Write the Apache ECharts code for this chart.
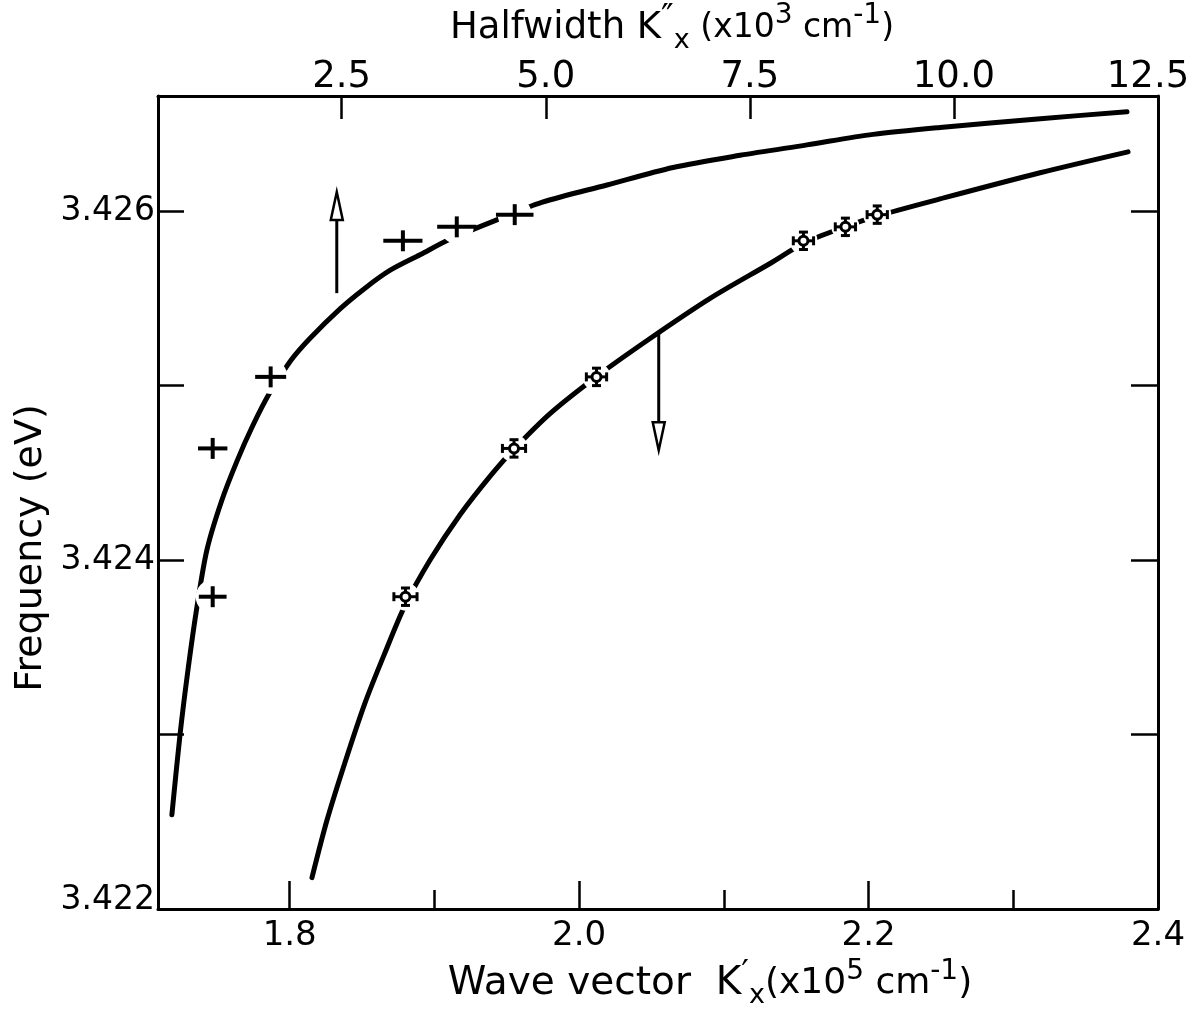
<!DOCTYPE html>
<html>
<head>
<meta charset="utf-8">
<title>Frequency vs wavevector</title>
<script src="https://cdn.jsdelivr.net/npm/echarts@6/dist/echarts.min.js"></script>
<style>
  html, body { margin: 0; padding: 0; background: #fff; }
  #chart { width: 1195px; height: 1011px; }
</style>
</head>
<body>
<div id="chart"></div>
<script>
// measured points, same frequency for both K' and K''
const freq = [3.42379, 3.42464, 3.42505, 3.42583, 3.42591, 3.42598]
const freqErrPlus = [0.00006, 0.00006, 0.00006, 0.00006, 0.00006, 0.00006]
const freqErrRing = [0.00005, 0.00005, 0.00005, 0.00005, 0.00005, 0.00005]

// wavevector K' (x10^5 cm^-1), bottom axis
const waveK = [1.880, 1.955, 2.012, 2.155, 2.184, 2.206]
const waveKErr = [0.008, 0.008, 0.007, 0.007, 0.007, 0.007]

// halfwidth K'' (x10^3 cm^-1), top axis
const halfK = [0.92, 0.92, 1.63, 3.25, 3.91, 4.62]
const halfKErr = [0.17, 0.18, 0.19, 0.24, 0.24, 0.23]

// fitted curves
const fitWaveK = [1.8154, 1.8258, 1.8382, 1.8520, 1.8659, 1.8797, 1.8970, 1.9177, 1.9384, 1.9543,
  1.9799, 2.0117, 2.0490, 2.0905, 2.1319, 2.1561, 2.1838, 2.2052, 2.2494, 2.3185, 2.3793]
const fitWaveFreq = [3.42218, 3.42251, 3.42284, 3.42318, 3.42347, 3.42374, 3.42400, 3.42426, 3.42448, 3.42463,
  3.42484, 3.42505, 3.42527, 3.42550, 3.42570, 3.42582, 3.42591, 3.42597, 3.42607, 3.42622, 3.42634]

const fitHalfK = [0.42, 0.52, 0.62, 0.73, 0.85, 1.03, 1.22, 1.40, 1.62, 1.87, 2.11, 2.48, 2.79,
  3.09, 3.46, 3.83, 4.40, 4.95, 5.75, 6.56, 7.38, 8.20, 9.01, 9.83, 11.06, 12.12]
const fitHalfFreq = [3.42254, 3.42300, 3.42338, 3.42374, 3.42406, 3.42434, 3.42457, 3.42476, 3.42496,
  3.42514, 3.42527, 3.42544, 3.42556, 3.42566, 3.42575, 3.42584, 3.42595, 3.42605, 3.42615, 3.42625,
  3.42632, 3.42638, 3.42644, 3.42648, 3.42653, 3.42657]

// arrows: [x, freq from, freq to]
const upArrow = [2.44, 3.42553, 3.42611]
const downArrow = [2.055, 3.42530, 3.42463]

// ticks
const waveTicks = [1.8, 2.0, 2.2]
const waveMinorTicks = [1.9, 2.1, 2.3]
const waveLabels = [1.8, 2.0, 2.2, 2.4]
const halfTicks = [2.5, 5.0, 7.5, 10.0]
const halfLabels = [2.5, 5.0, 7.5, 10.0, 12.5]
const freqTicks = [3.423, 3.424, 3.425, 3.426]
const freqLabels = [3.422, 3.424, 3.426]

const FONT = 'DejaVu Sans'
const black = '#000'

const zip = (a, b) => a.map((v, i) => [v, b[i]])

function renderPlus(params, api) {
  const x = api.value(0), y = api.value(1), ex = api.value(2), ey = api.value(3)
  const c = api.coord([x, y])
  const l = api.coord([x - ex, y]), r = api.coord([x + ex, y])
  const t = api.coord([x, y + ey]), b = api.coord([x, y - ey])
  const st = { stroke: black, lineWidth: 4 }
  return {
    type: 'group',
    children: [
      { type: 'circle', shape: { cx: c[0], cy: c[1], r: 17 }, style: { fill: '#fff' } },
      { type: 'line', shape: { x1: l[0], y1: l[1], x2: r[0], y2: r[1] }, style: st },
      { type: 'line', shape: { x1: t[0], y1: t[1], x2: b[0], y2: b[1] }, style: st }
    ]
  }
}

function renderRing(params, api) {
  const x = api.value(0), y = api.value(1), ex = api.value(2), ey = api.value(3)
  const c = api.coord([x, y])
  const l = api.coord([x - ex, y]), r = api.coord([x + ex, y])
  const t = api.coord([x, y + ey]), b = api.coord([x, y - ey])
  const rad = 4.5, cap = 4.5
  const st = { stroke: black, lineWidth: 3 }
  return {
    type: 'group',
    children: [
      { type: 'circle', shape: { cx: c[0], cy: c[1], r: 14 }, style: { fill: '#fff' } },
      { type: 'line', shape: { x1: l[0], y1: l[1], x2: c[0] - rad, y2: c[1] }, style: st },
      { type: 'line', shape: { x1: c[0] + rad, y1: c[1], x2: r[0], y2: r[1] }, style: st },
      { type: 'line', shape: { x1: t[0], y1: t[1], x2: c[0], y2: c[1] - rad }, style: st },
      { type: 'line', shape: { x1: c[0], y1: c[1] + rad, x2: b[0], y2: b[1] }, style: st },
      { type: 'line', shape: { x1: l[0], y1: l[1] - cap, x2: l[0], y2: l[1] + cap }, style: st },
      { type: 'line', shape: { x1: r[0], y1: r[1] - cap, x2: r[0], y2: r[1] + cap }, style: st },
      { type: 'line', shape: { x1: t[0] - cap, y1: t[1], x2: t[0] + cap, y2: t[1] }, style: st },
      { type: 'line', shape: { x1: b[0] - cap, y1: b[1], x2: b[0] + cap, y2: b[1] }, style: st },
      { type: 'circle', shape: { cx: c[0], cy: c[1], r: rad }, style: { fill: '#fff', stroke: black, lineWidth: 3 } }
    ]
  }
}

function renderArrow(params, api) {
  const p0 = api.coord([api.value(0), api.value(1)])
  const p1 = api.coord([api.value(0), api.value(2)])
  const dir = Math.sign(p1[1] - p0[1])
  const base = p1[1] - dir * 28
  return {
    type: 'group',
    children: [
      { type: 'line', shape: { x1: p0[0], y1: p0[1], x2: p0[0], y2: base }, style: { stroke: black, lineWidth: 3 } },
      {
        type: 'polygon',
        shape: { points: [[p1[0], p1[1]], [p1[0] - 6, base], [p1[0] + 6, base]] },
        style: { fill: '#fff', stroke: black, lineWidth: 2.5 }
      }
    ]
  }
}

const axisLine = { show: true, lineStyle: { color: black, width: 3 } }
const tickStyle = { color: black, width: 2.5 }
const titleRich = (big, small) => ({
  t: { fontFamily: FONT, fontSize: big, lineHeight: 52, color: black },
  q: { fontFamily: FONT, fontSize: small, lineHeight: 52, color: black },
  p: { fontFamily: FONT, fontSize: 34, lineHeight: 30, verticalAlign: 'top', color: black },
  s: { fontFamily: FONT, fontSize: 27, lineHeight: 28, verticalAlign: 'bottom', color: black },
  u: { fontFamily: FONT, fontSize: 28, lineHeight: 30, verticalAlign: 'top', color: black }
})

const chart = echarts.init(document.getElementById('chart'))
chart.setOption({
  animation: false,
  backgroundColor: '#fff',
  grid: { left: 158, right: 37, top: 96, bottom: 102, containLabel: false, outerBoundsMode: 'none' },
  xAxis: [
    {
      type: 'value', min: 1.709, max: 2.4, position: 'bottom',
      axisLine,
      axisTick: { show: true, inside: true, length: 28, lineStyle: tickStyle, customValues: waveTicks },
      axisLabel: {
        customValues: waveLabels, formatter: v => v.toFixed(1), color: black,
        fontFamily: FONT, fontSize: 34, margin: 10
      },
      splitLine: { show: false },
      name: '{t|Wave vector  K}{p|′}{s|x}{q|(x10}{u|5}{q| cm}{u|-1}{q|)}',
      nameLocation: 'middle', nameGap: 46,
      nameTextStyle: { padding: [0, 0, 0, 104], rich: titleRich(39, 36) }
    },
    {
      type: 'value', min: 0.25, max: 12.5, position: 'top',
      axisLine,
      axisTick: { show: true, inside: true, length: 23, lineStyle: tickStyle, customValues: halfTicks },
      axisLabel: {
        customValues: halfLabels,
        formatter: v => v === 12.5 ? '{r|12.5}' : v.toFixed(1),
        color: black, fontFamily: FONT, fontSize: 37, margin: 0,
        rich: { r: { fontFamily: FONT, fontSize: 37, color: black, padding: [0, 20, 0, 0] } }
      },
      splitLine: { show: false },
      name: '{t|Halfwidth K}{p|″}{s|x}{q| (x10}{u|3}{q| cm}{u|-1}{q|)}',
      nameLocation: 'middle', nameGap: 42,
      nameTextStyle: { padding: [0, 0, 0, 28], rich: titleRich(37, 33) }
    },
    {
      // minor ticks on the wavevector axis
      type: 'value', min: 1.709, max: 2.4, position: 'bottom',
      axisLine: { show: false },
      axisTick: { show: true, inside: true, length: 19, lineStyle: tickStyle, customValues: waveMinorTicks },
      axisLabel: { show: false },
      splitLine: { show: false }
    }
  ],
  yAxis: [
    {
      type: 'value', min: 3.422, max: 3.42666, position: 'left',
      axisLine,
      axisTick: { show: true, inside: true, length: 26, lineStyle: tickStyle, customValues: freqTicks },
      axisLabel: {
        customValues: freqLabels,
        formatter: v => v === 3.422 ? '{b|3.422}' : v.toFixed(3),
        color: black, fontFamily: FONT, fontSize: 33, margin: 3,
        rich: { b: { fontFamily: FONT, fontSize: 33, color: black, padding: [0, 0, 18, 0] } }
      },
      splitLine: { show: false },
      name: 'Frequency (eV)',
      nameLocation: 'middle', nameGap: 108,
      nameTextStyle: { fontFamily: FONT, fontSize: 38, color: black, padding: [0, 91, 0, 0] }
    },
    {
      type: 'value', min: 3.422, max: 3.42666, position: 'right',
      axisLine,
      axisTick: { show: true, inside: true, length: 27, lineStyle: tickStyle, customValues: freqTicks },
      axisLabel: { show: false },
      splitLine: { show: false }
    }
  ],
  series: [
    {
      name: 'fit K\'', type: 'line', xAxisIndex: 0, yAxisIndex: 0,
      data: zip(fitWaveK, fitWaveFreq),
      showSymbol: false, smooth: 0.3,
      lineStyle: { color: black, width: 5, cap: 'round', join: 'round' }, z: 2
    },
    {
      name: 'fit K\'\'', type: 'line', xAxisIndex: 1, yAxisIndex: 0,
      data: zip(fitHalfK, fitHalfFreq),
      showSymbol: false, smooth: 0.3,
      lineStyle: { color: black, width: 5, cap: 'round', join: 'round' }, z: 2
    },
    {
      name: 'K\' data', type: 'custom', xAxisIndex: 0, yAxisIndex: 0,
      renderItem: renderRing,
      data: waveK.map((v, i) => [v, freq[i], waveKErr[i], freqErrRing[i]]), z: 3
    },
    {
      name: 'K\'\' data', type: 'custom', xAxisIndex: 1, yAxisIndex: 0,
      renderItem: renderPlus,
      data: halfK.map((v, i) => [v, freq[i], halfKErr[i], freqErrPlus[i]]), z: 3
    },
    {
      type: 'custom', xAxisIndex: 1, yAxisIndex: 0, renderItem: renderArrow,
      data: [upArrow], z: 4
    },
    {
      type: 'custom', xAxisIndex: 0, yAxisIndex: 0, renderItem: renderArrow,
      data: [downArrow], z: 4
    }
  ]
})
</script>
</body>
</html>
